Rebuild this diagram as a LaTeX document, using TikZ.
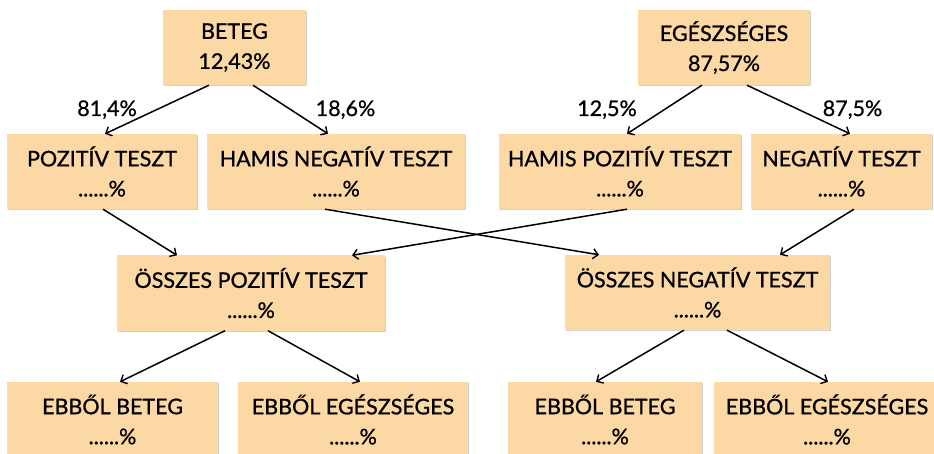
\documentclass[tikz,border=0pt]{standalone}
\usepackage{fontspec}
\setmainfont{Lato}[FakeBold=0.9]
\usetikzlibrary{arrows.meta,shadows}
\definecolor{notefill}{RGB}{252,217,164}
\tikzset{
  note/.style={fill=notefill, draw=none, inner sep=0pt, minimum height=75pt,
    align=center, font=\fontsize{21.5}{30}\selectfont,
    drop shadow={shadow xshift=1.2pt, shadow yshift=-1.2pt, opacity=0.18, fill=black}},
  link/.style={line width=1.5pt, -{Straight Barb[length=5pt,width=10pt,line width=1.4pt]}},
  pct/.style={anchor=base, font=\fontsize{21.5}{24}\selectfont}
}
\begin{document}
\begin{tikzpicture}[x=1pt,y=-1pt]
\useasboundingbox (0,0) rectangle (934,454);
\begin{scope}
\clip (0,0) rectangle (934,454);
% top level
\node[note, minimum width=143pt] (beteg) at (234.5,47.5) {BETEG\\12,43\%};
\node[note, minimum width=172pt] (egesz) at (724,47.5) {EGÉSZSÉGES\\87,57\%};
% test outcomes
\node[note, minimum width=190pt] (poz) at (102,171.5) {POZITÍV TESZT\\......\%};
\node[note, minimum width=258pt] (hamneg) at (336,171.5) {HAMIS NEGATÍV TESZT\\......\%};
\node[note, minimum width=242pt] (hampoz) at (620,171.5) {HAMIS POZITÍV TESZT\\......\%};
\node[note, minimum width=181pt] (neg) at (841.5,171.5) {NEGATÍV TESZT\\......\%};
% totals
\node[note, minimum width=268pt] (osszpoz) at (251,293) {ÖSSZES POZITÍV TESZT\\......\%};
\node[note, minimum width=265pt] (osszneg) at (697.5,292.5) {ÖSSZES NEGATÍV TESZT\\......\%};
% breakdown
\node[note, minimum width=211pt] (ebb1) at (112.5,419.5) {EBBŐL BETEG\\......\%};
\node[note, minimum width=230pt] (ebb2) at (353,419.5) {EBBŐL EGÉSZSÉGES\\......\%};
\node[note, minimum width=194pt] (ebb3) at (605,419.5) {EBBŐL BETEG\\......\%};
\node[note, minimum width=226pt] (ebb4) at (827,419.5) {EBBŐL EGÉSZSÉGES\\......\%};
\end{scope}
% branch labels
\node[pct] (l1) at (107,116) {81,4\%};
\node[pct] (l2) at (345.5,116) {18,6\%};
\node[pct] (l3) at (607,116) {12,5\%};
\node[pct] (l4) at (852.5,116) {87,5\%};
% connectors
\draw[link] ([xshift=-25.5pt]beteg.south) -- ([xshift=3pt]poz.north);
\draw[link] ([xshift=18.5pt]beteg.south) -- ([xshift=-8pt]hamneg.north);
\draw[link] ([xshift=-22pt]egesz.south) -- ([xshift=7pt]hampoz.north);
\draw[link] ([xshift=23pt]egesz.south) -- ([xshift=8.5pt]neg.north);
\draw[link] ([xshift=1pt]poz.south) -- ([xshift=-74pt]osszpoz.north);
\draw[link] ([xshift=7pt]hampoz.south) -- ([xshift=101pt]osszpoz.north);
\draw[link] ([xshift=-11pt]hamneg.south) -- ([xshift=-98.5pt]osszneg.north);
\draw[link] ([xshift=12.5pt]neg.south) -- ([xshift=82.5pt]osszneg.north);
\draw[link] ([xshift=-26pt]osszpoz.south) -- ([xshift=7.5pt]ebb1.north);
\draw[link] ([xshift=17pt]osszpoz.south) -- ([xshift=7pt]ebb2.north);
\draw[link] ([xshift=-13.5pt]osszneg.south) -- ([xshift=-9pt]ebb3.north);
\draw[link] ([xshift=29.5pt]osszneg.south) -- ([xshift=1pt]ebb4.north);
\end{tikzpicture}
\end{document}
